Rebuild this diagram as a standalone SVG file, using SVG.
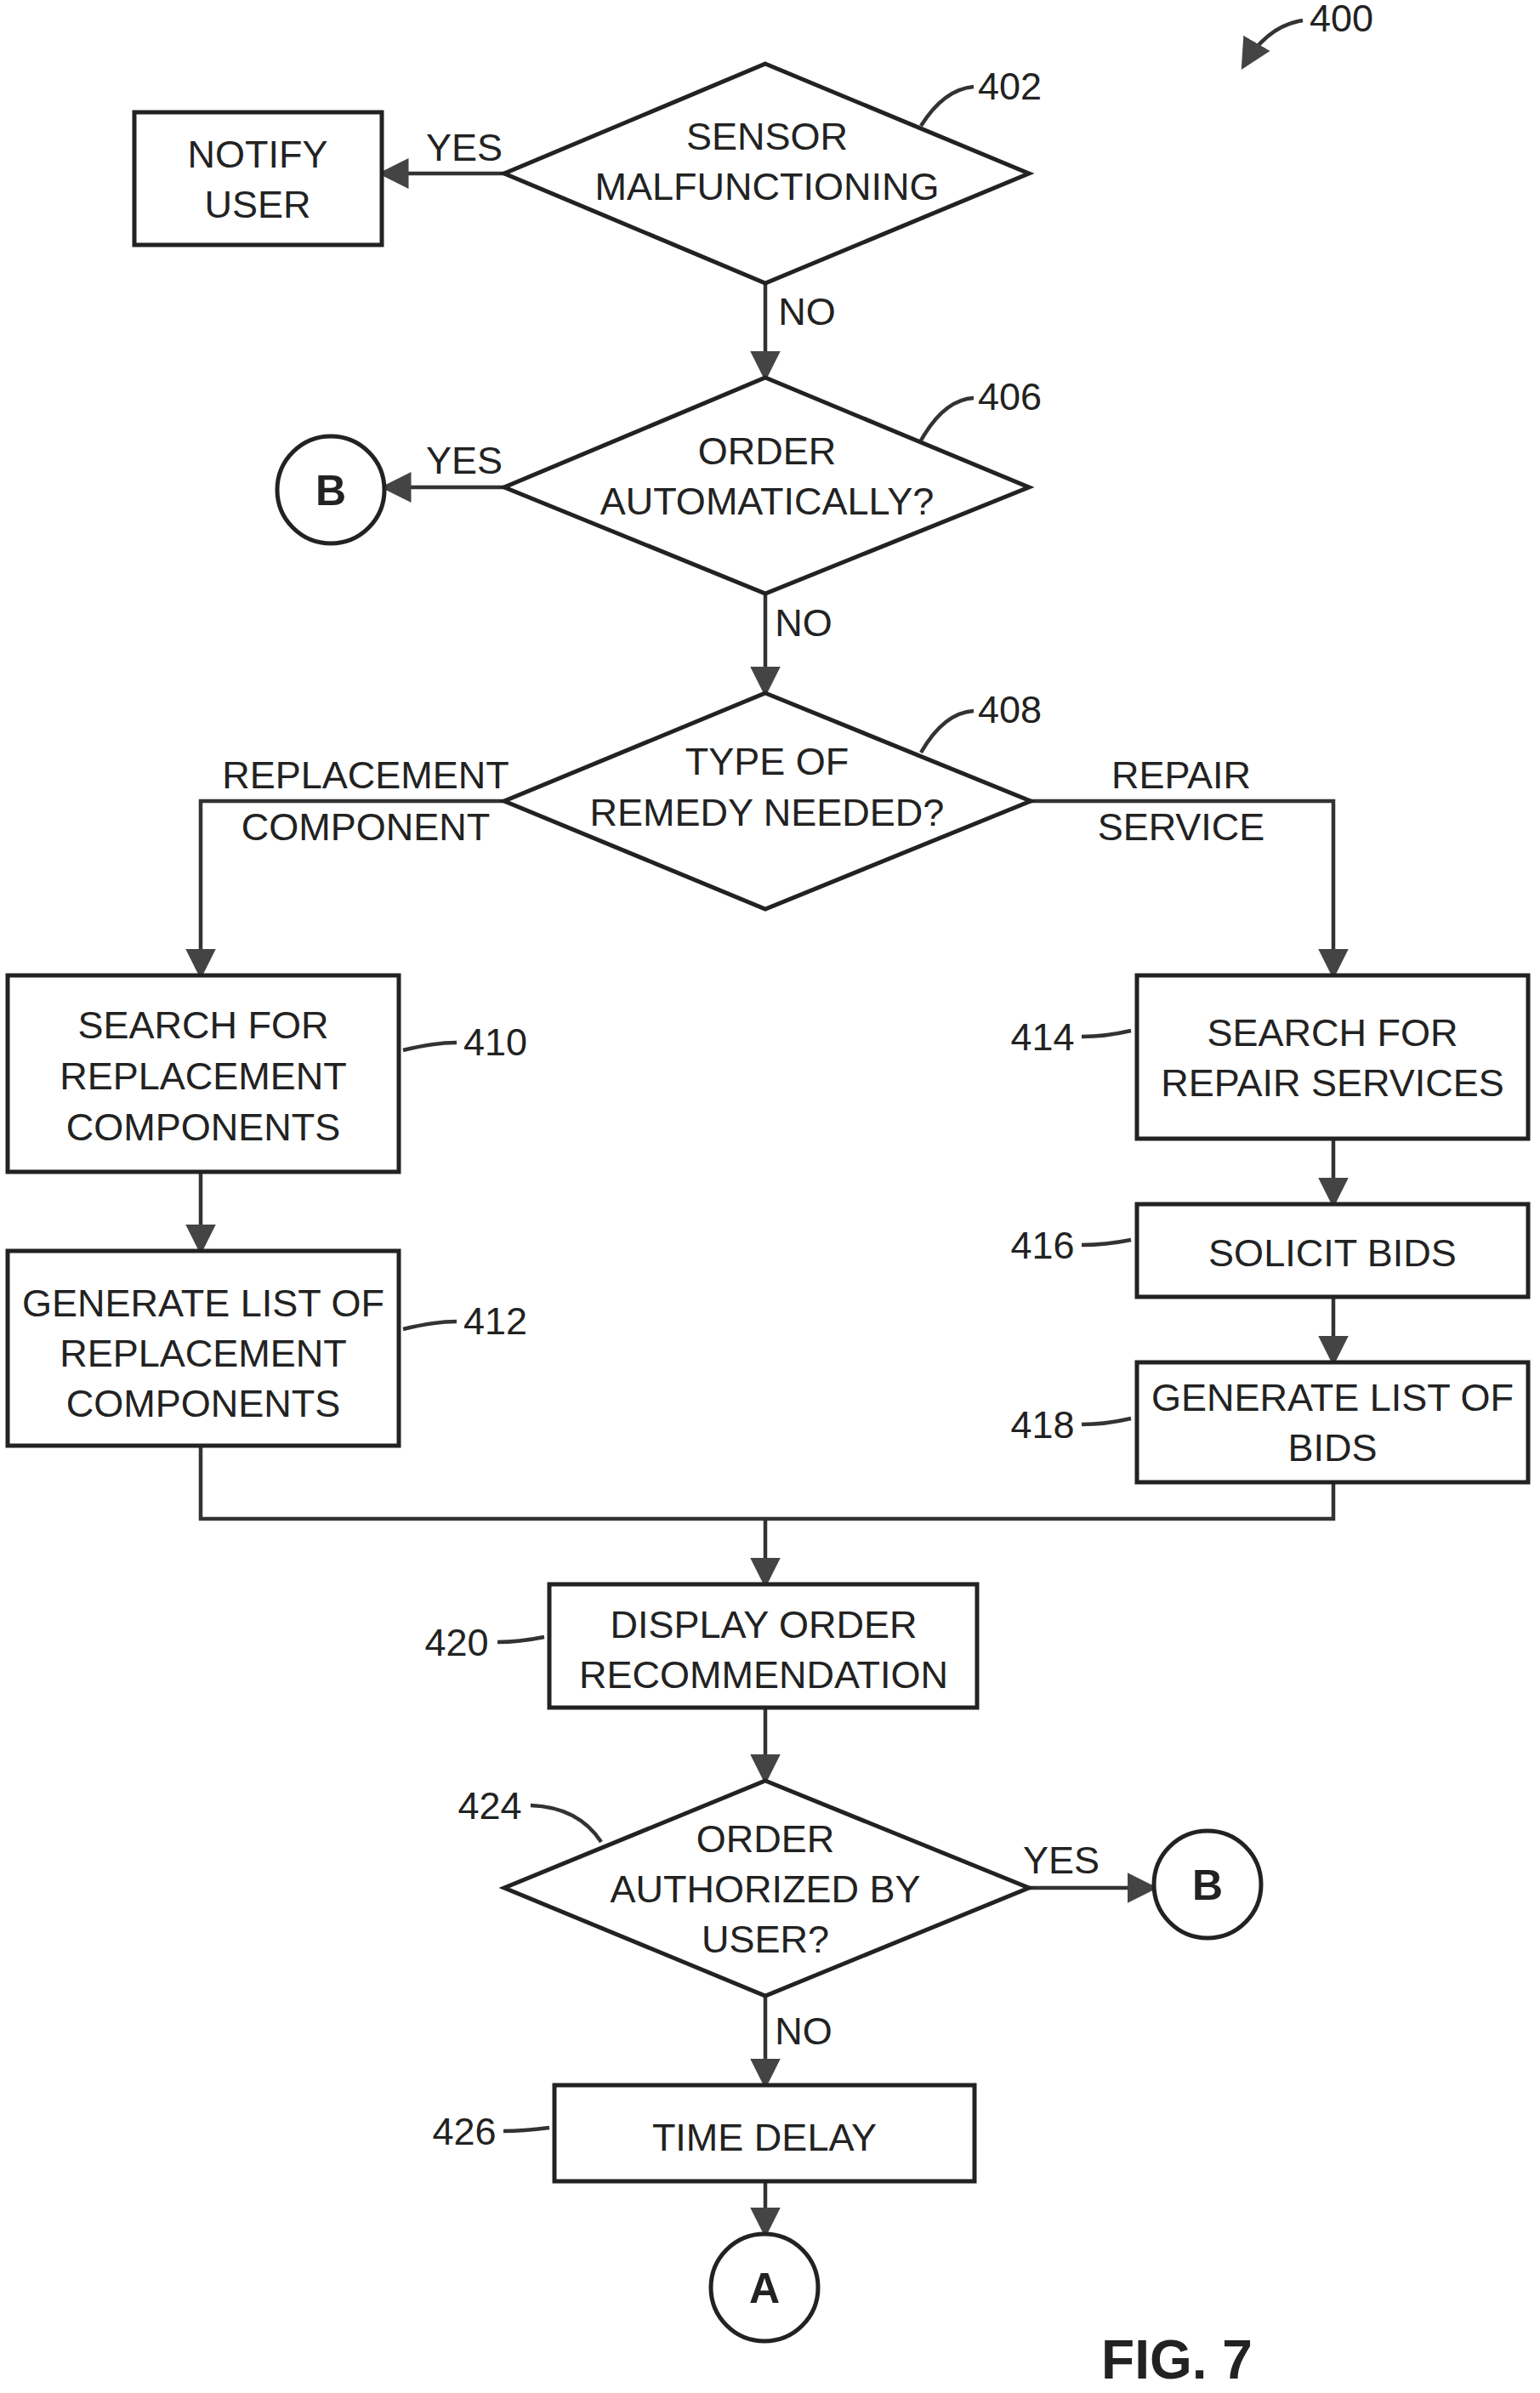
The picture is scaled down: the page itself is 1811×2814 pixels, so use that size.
<svg xmlns="http://www.w3.org/2000/svg" width="1811" height="2814" viewBox="0 0 1811 2814">
<style>
.s{fill:#fff;stroke:#222;stroke-width:5}
.l{fill:none;stroke:#333;stroke-width:4.5}
text{font-family:"Liberation Sans",Arial,sans-serif;font-size:45px;fill:#222;text-anchor:middle}
.n{text-anchor:start}
.c{font-size:50px;font-weight:bold}
</style>
<defs><marker id="a" markerWidth="8" markerHeight="8" refX="7" refY="4" orient="auto" markerUnits="strokeWidth"><path d="M0,0 L8,4 L0,8 Z" fill="#444"/></marker></defs>
<rect width="1811" height="2814" fill="#fff"/>
<g id="connectors">
<path class="l" d="M593,204 H449" marker-end="url(#a)"/>
<path class="l" d="M900,333 V444" marker-end="url(#a)"/>
<path class="l" d="M593,573 H452" marker-end="url(#a)"/>
<path class="l" d="M900,698 V815" marker-end="url(#a)"/>
<path class="l" d="M593,942 H236 V1147" marker-end="url(#a)"/>
<path class="l" d="M1212,942 H1568 V1147" marker-end="url(#a)"/>
<path class="l" d="M236,1378 V1471" marker-end="url(#a)"/>
<path class="l" d="M1568,1339 V1416" marker-end="url(#a)"/>
<path class="l" d="M1568,1525 V1602" marker-end="url(#a)"/>
<path class="l" d="M236,1700 V1786 H1568 V1743"/>
<path class="l" d="M900,1786 V1863" marker-end="url(#a)"/>
<path class="l" d="M900,2008 V2094" marker-end="url(#a)"/>
<path class="l" d="M1210,2220 H1357" marker-end="url(#a)"/>
<path class="l" d="M900,2347 V2452" marker-end="url(#a)"/>
<path class="l" d="M900,2565 V2627" marker-end="url(#a)"/>
<text x="546" y="189">YES</text>
<text x="949" y="382">NO</text>
<text x="546" y="557">YES</text>
<text x="945" y="748">NO</text>
<text x="430" y="927">REPLACEMENT</text>
<text x="430" y="988">COMPONENT</text>
<text x="1389" y="927">REPAIR</text>
<text x="1389" y="988">SERVICE</text>
<text x="1248" y="2203">YES</text>
<text x="945" y="2404">NO</text>
</g>
<g id="n400"><text x="1540" y="37" class="n">400</text><path class="l" d="M1532,24 Q1490,30 1462,78" marker-end="url(#a)"/></g>
<g id="notify"><rect class="s" x="158" y="132" width="291" height="156"/><text x="303" y="197">NOTIFY</text><text x="303" y="256">USER</text></g>
<g id="n402"><path class="s" d="M900,75 L1210,204 L900,333 L593,204 Z"/><text x="902" y="176">SENSOR</text><text x="902" y="235">MALFUNCTIONING</text><path class="l" d="M1083,148 Q1110,105 1145,102"/><text x="1150" y="117" class="n">402</text></g>
<g id="b1"><circle class="s" cx="389" cy="576" r="63"/><text x="389" y="594" class="c">B</text></g>
<g id="n406"><path class="s" d="M900,444 L1210,573 L900,698 L593,573 Z"/><text x="902" y="546">ORDER</text><text x="902" y="605">AUTOMATICALLY?</text><path class="l" d="M1083,518 Q1110,470 1145,468"/><text x="1150" y="482" class="n">406</text></g>
<g id="n408"><path class="s" d="M900,815 L1212,942 L900,1069 L593,942 Z"/><text x="902" y="911">TYPE OF</text><text x="902" y="971">REMEDY NEEDED?</text><path class="l" d="M1083,885 Q1110,838 1145,836"/><text x="1150" y="850" class="n">408</text></g>
<g id="n410"><rect class="s" x="9" y="1147" width="460" height="231"/><text x="239" y="1221">SEARCH FOR</text><text x="239" y="1281">REPLACEMENT</text><text x="239" y="1341">COMPONENTS</text><path class="l" d="M474,1235 Q510,1226 537,1226"/><text x="545" y="1241" class="n">410</text></g>
<g id="n412"><rect class="s" x="9" y="1471" width="460" height="229"/><text x="239" y="1548">GENERATE LIST OF</text><text x="239" y="1607">REPLACEMENT</text><text x="239" y="1666">COMPONENTS</text><path class="l" d="M474,1563 Q510,1554 537,1554"/><text x="545" y="1569" class="n">412</text></g>
<g id="n414"><rect class="s" x="1337" y="1147" width="460" height="192"/><text x="1567" y="1230">SEARCH FOR</text><text x="1567" y="1289">REPAIR SERVICES</text><path class="l" d="M1330,1212 Q1300,1219 1272,1219"/><text x="1226" y="1235">414</text></g>
<g id="n416"><rect class="s" x="1337" y="1416" width="460" height="109"/><text x="1567" y="1489">SOLICIT BIDS</text><path class="l" d="M1330,1458 Q1300,1464 1272,1464"/><text x="1226" y="1480">416</text></g>
<g id="n418"><rect class="s" x="1337" y="1602" width="460" height="141"/><text x="1567" y="1659">GENERATE LIST OF</text><text x="1567" y="1718">BIDS</text><path class="l" d="M1330,1668 Q1300,1675 1272,1675"/><text x="1226" y="1691">418</text></g>
<g id="n420"><rect class="s" x="646" y="1863" width="503" height="145"/><text x="898" y="1926">DISPLAY ORDER</text><text x="898" y="1985">RECOMMENDATION</text><path class="l" d="M640,1925 Q610,1931 585,1931"/><text x="537" y="1947">420</text></g>
<g id="n424"><path class="s" d="M900,2094 L1210,2220 L900,2347 L593,2220 Z"/><text x="900" y="2178">ORDER</text><text x="900" y="2237">AUTHORIZED BY</text><text x="900" y="2296">USER?</text><path class="l" d="M707,2166 Q680,2125 624,2123"/><text x="576" y="2139">424</text></g>
<g id="b2"><circle class="s" cx="1420" cy="2216" r="63"/><text x="1420" y="2234" class="c">B</text></g>
<g id="n426"><rect class="s" x="652" y="2452" width="494" height="113"/><text x="899" y="2529">TIME DELAY</text><path class="l" d="M646,2502 Q615,2506 592,2506"/><text x="546" y="2522">426</text></g>
<g id="a1"><circle class="s" cx="899" cy="2690" r="63"/><text x="899" y="2708" class="c">A</text></g>
<text x="1384" y="2797" style="font-size:64px;font-weight:bold">FIG. 7</text>
</svg>
